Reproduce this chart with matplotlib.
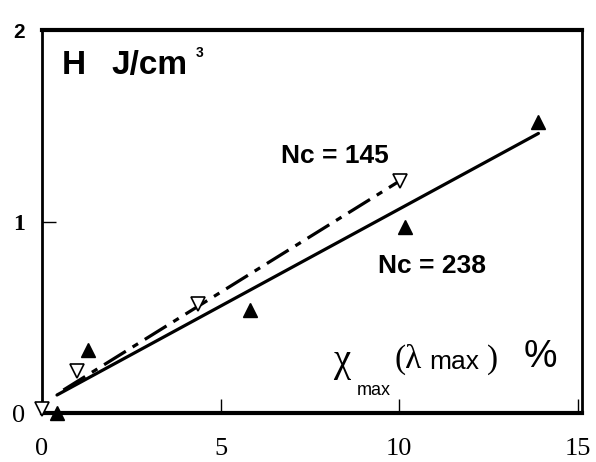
import matplotlib
matplotlib.use("Agg")
from matplotlib import pyplot as plt

# data
x_238 = [0.42, 1.29, 5.83, 10.17, 13.9]
y_238 = [0.0, 0.33, 0.54, 0.97, 1.52]
x_145 = [0.0, 0.98, 4.37, 10.03]
y_145 = [0.02, 0.22, 0.57, 1.21]
fit_238_x = [0.42, 13.9]
fit_238_y = [0.094, 1.46]
fit_145_x = [0.6, 10.0]
fit_145_y = [0.12, 1.21]
xticks = [0, 5, 10, 15]
yticks = [0, 1, 2]

sans = ["Liberation Sans", "DejaVu Sans"]
serif = ["Liberation Serif", "DejaVu Serif"]

fig = plt.figure(figsize=(5.96, 4.62), dpi=100)
ax = fig.add_axes([42 / 596, 1 - 413 / 462, 540 / 596, 383 / 462])

ax.plot(fit_238_x, fit_238_y, color="black", lw=2.3, solid_capstyle="round")
ax.plot(fit_145_x, fit_145_y, color="black", lw=2.3,
        linestyle=(0, (8, 2.5, 2, 2.5)))
ax.plot(x_238, y_238, "^", color="black", ms=10, clip_on=False, zorder=5)
ax.plot(x_145, y_145, "v", mfc="white", mec="black", mew=1.2, ms=10,
        clip_on=False, zorder=5)

ax.set_xlim(0, 15.12)
ax.set_ylim(0, 2.0)

ax.set_xticks(xticks)
ax.set_xticklabels([str(t) for t in xticks], family=serif, fontsize=19)
ax.set_yticks(yticks)
ylabs = ax.set_yticklabels(["0", "1", "2"])
ylabs[0].set_fontfamily(serif)
ylabs[0].set_fontsize(19)
ylabs[1].set_fontfamily(serif)
ylabs[1].set_fontsize(17)
ylabs[1].set_fontweight("bold")
ylabs[2].set_fontfamily(sans)
ylabs[2].set_fontsize(15)
ylabs[2].set_fontweight("bold")
ax.tick_params(axis="x", direction="in", length=10, width=1, pad=18)
ax.tick_params(axis="y", direction="in", length=10, width=1, pad=12)

for side in ["left", "right"]:
    ax.spines[side].set_linewidth(2.0)
for side in ["top", "bottom"]:
    ax.spines[side].set_linewidth(3.0)

# labels inside the plot
ax.text(0.56, 1.77, "H", family=sans, fontsize=24, fontweight="bold", va="baseline")
ax.text(1.95, 1.77, "J/cm", family=sans, fontsize=24, fontweight="bold", va="baseline")
ax.text(4.3, 1.86, "3", family=sans, fontsize=10, fontweight="bold", va="baseline")

ax.text(8.2, 1.34, "Nc = 145", family=sans, fontsize=19, fontweight="bold",
        ha="center", va="center")
ax.text(10.92, 0.77, "Nc = 238", family=sans, fontsize=19, fontweight="bold",
        ha="center", va="center")

ax.text(8.38, 0.27, "χ", family=serif, fontsize=28, ha="center", va="center")
ax.text(9.3, 0.12, "max", family=sans, fontsize=13, ha="center", va="center")
ax.text(9.87, 0.28, "(λ", family=serif, fontsize=24, ha="left", va="center")
ax.text(10.85, 0.265, "max", family=sans, fontsize=19, ha="left", va="center")
ax.text(12.45, 0.28, ")", family=serif, fontsize=24, ha="left", va="center")
ax.text(13.95, 0.29, "%", family=sans, fontsize=27, ha="center", va="center")

fig.savefig("out.png", dpi=100)
